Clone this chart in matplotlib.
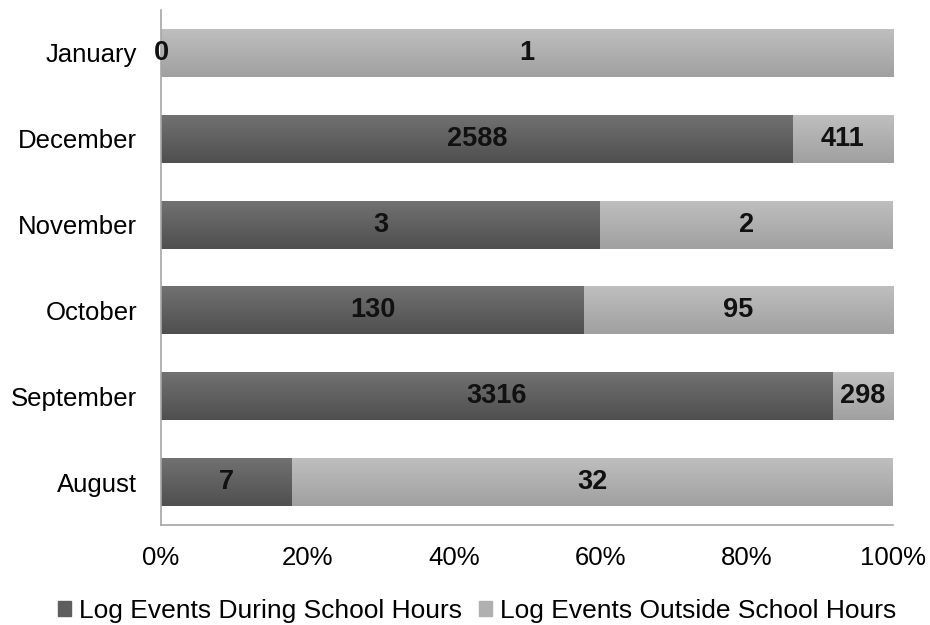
import numpy as np
import matplotlib
matplotlib.use("Agg")
import matplotlib.pyplot as plt
from matplotlib.colors import LinearSegmentedColormap
from matplotlib.patches import Patch

plt.rcParams['font.family'] = ['Liberation Sans', 'DejaVu Sans']

months = ["August", "September", "October", "November", "December", "January"]
during = [7, 3316, 130, 3, 2588, 0]
outside = [32, 298, 95, 2, 411, 1]
series_names = ["Log Events During School Hours", "Log Events Outside School Hours"]
xtick_labels = ["0%", "20%", "40%", "60%", "80%", "100%"]

dark_flat, light_flat = "#5e5e5e", "#b0b0b0"
dark_grad = LinearSegmentedColormap.from_list("dk", ["#4f4f4f", "#727272"])
light_grad = LinearSegmentedColormap.from_list("lt", ["#a0a0a0", "#bfbfbf"])

during_arr = np.array(during, dtype=float)
outside_arr = np.array(outside, dtype=float)
total = during_arr + outside_arr
p_during = during_arr / total
p_outside = outside_arr / total

fig = plt.figure(figsize=(9.3, 6.25), dpi=100)
ax = fig.add_axes([0.1731, 0.16, 0.9602 - 0.1731, 0.824])
y = np.arange(len(months))
h = 0.56

bars_d = ax.barh(y, p_during, height=h, color=dark_flat, linewidth=0)
bars_o = ax.barh(y, p_outside, left=p_during, height=h, color=light_flat, linewidth=0)

# vertical shading inside every bar
grad = np.linspace(0, 1, 256).reshape(-1, 1)
for bars, cmap in ((bars_d, dark_grad), (bars_o, light_grad)):
    for b in bars:
        x0, y0 = b.get_x(), b.get_y()
        w, hh = b.get_width(), b.get_height()
        if w <= 0:
            continue
        im = ax.imshow(grad, extent=(x0, x0 + w, y0, y0 + hh), origin="lower",
                       cmap=cmap, aspect="auto", zorder=2, interpolation="bilinear")
        im.set_clip_path(b)

# value labels
for i in range(len(months)):
    ax.text(p_during[i] / 2, y[i], f"{during[i]}", ha="center", va="center",
            fontsize=19.5, fontweight="bold", color="#111111", zorder=3)
    ax.text(p_during[i] + p_outside[i] / 2, y[i], f"{outside[i]}", ha="center",
            va="center", fontsize=19.5, fontweight="bold", color="#111111", zorder=3)

ax.set_xlim(0, 1)
ax.set_ylim(-0.5, 5.5)
ax.set_xticks(np.linspace(0, 1, 6))
ax.set_xticklabels(xtick_labels, fontsize=18.5)
ax.set_yticks(y)
ax.set_yticklabels(months, fontsize=18.5)
ax.tick_params(axis="y", length=0, pad=17)
ax.tick_params(axis="x", length=0, pad=15)
for s in ("top", "right"):
    ax.spines[s].set_visible(False)
for s in ("left", "bottom"):
    ax.spines[s].set_color("#a6a6a6")
    ax.spines[s].set_linewidth(1.2)

handles = [Patch(color=dark_flat), Patch(color=light_flat)]
fig.legend(handles, series_names, loc="center", bbox_to_anchor=(0.513, 0.022),
           ncol=2, frameon=False, fontsize=19, handlelength=0.5, handleheight=0.5,
           handletextpad=0.3, columnspacing=0.65, borderpad=0)

fig.savefig("out.png", dpi=100)
